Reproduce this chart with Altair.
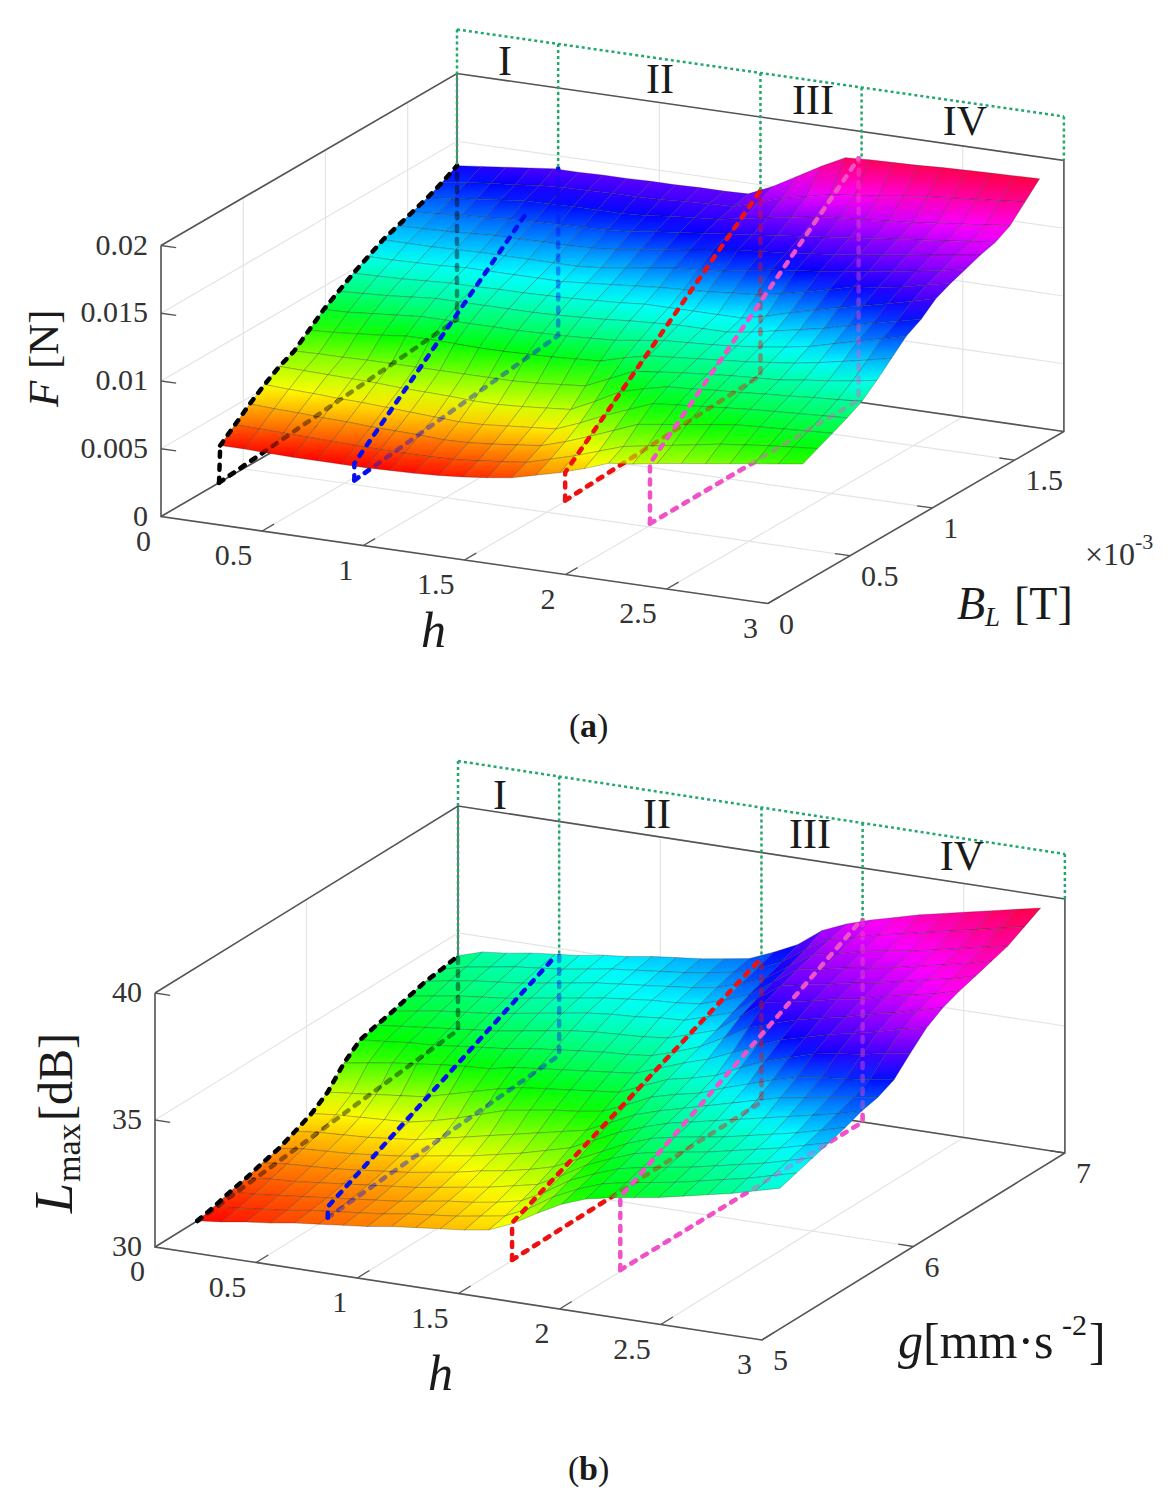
import colorsys

import altair as alt
import pandas as pd

# ---------- data ----------
H_STATIONS = [round(0.12 * i, 2) for i in range(25)]
BL_STATIONS = [round(0.36 + 0.09 * i, 3) for i in range(17)]      # x 10^-3 T
G_STATIONS = [round(5.28 + 0.1075 * i, 4) for i in range(17)]     # mm/s^2

# F in 10^-3 N; one row per h station, one column per B_L station
F_TABLE = [
 [2.7,3.6,4.5,5.3,6.0,6.5,7.4,8.3,9.0,9.7,10.3,10.9,11.3,11.7,12.1,12.6,13.2],
 [2.7,3.55,4.4,5.2,5.95,6.55,7.5,8.35,9.1,9.75,10.3,10.9,11.35,11.8,12.3,12.85,13.4],
 [2.65,3.5,4.35,5.15,5.9,6.55,7.65,8.5,9.2,9.8,10.35,10.9,11.4,11.95,12.5,13.05,13.6],
 [2.6,3.45,4.25,5.05,5.85,6.6,7.8,8.65,9.35,9.9,10.4,10.95,11.5,12.05,12.7,13.2,13.8],
 [2.6,3.4,4.2,5.0,5.8,6.6,8.0,8.8,9.5,10.0,10.5,11.0,11.6,12.2,12.9,13.4,14.0],
 [2.6,3.35,4.1,4.9,5.7,6.6,8.0,8.8,9.5,10.0,10.5,11.0,11.6,12.25,12.95,13.5,14.0],
 [2.6,3.3,4.05,4.8,5.65,6.6,7.95,8.8,9.5,10.05,10.5,11.0,11.65,12.3,13.0,13.55,14.05],
 [2.65,3.3,4.0,4.7,5.6,6.6,7.9,8.8,9.5,10.05,10.5,11.0,11.65,12.35,13.0,13.6,14.05],
 [2.7,3.3,3.9,4.6,5.5,6.6,7.9,8.8,9.5,10.1,10.5,11.0,11.7,12.4,13.0,13.6,14.1],
 [2.8,3.35,3.95,4.65,5.5,6.6,7.95,8.85,9.55,10.15,10.65,11.15,11.85,12.55,13.1,13.65,14.1],
 [2.95,3.5,4.1,4.8,5.6,6.7,8.0,8.9,9.65,10.25,10.8,11.4,12.1,12.8,13.3,13.75,14.15],
 [3.15,3.7,4.3,4.95,5.75,6.85,8.1,9.0,9.75,10.35,10.95,11.65,12.35,13.0,13.45,13.85,14.15],
 [3.4,3.9,4.5,5.1,5.9,7.0,8.2,9.1,9.9,10.5,11.1,11.9,12.6,13.2,13.6,13.9,14.2],
 [3.85,4.4,5.05,5.8,6.75,7.8,8.7,9.35,10.0,10.5,11.2,12.05,12.85,13.4,13.9,14.45,15.0],
 [4.3,4.9,5.7,6.6,7.7,8.6,9.1,9.6,10.1,10.5,11.3,12.2,13.1,13.6,14.2,15.0,16.0],
 [4.85,5.5,6.4,7.3,8.2,8.8,9.25,9.7,10.1,10.5,11.45,12.5,13.25,13.8,14.5,15.4,17.0],
 [5.5,6.1,7.1,8.0,8.6,9.0,9.4,9.8,10.1,10.5,11.6,12.8,13.4,14.0,14.8,15.8,17.9],
 [5.7,6.4,7.35,8.15,8.7,9.15,9.55,9.95,10.35,10.9,11.9,13.0,13.6,14.2,14.95,16.0,18.0],
 [6.0,6.7,7.6,8.3,8.85,9.3,9.7,10.15,10.7,11.4,12.3,13.2,13.8,14.4,15.1,16.2,18.05],
 [6.25,7.0,7.85,8.45,8.95,9.4,9.9,10.4,11.05,11.85,12.75,13.45,14.05,14.6,15.25,16.45,18.1],
 [6.5,7.3,8.1,8.6,9.1,9.5,10.1,10.7,11.4,12.3,13.2,13.7,14.3,14.8,15.4,16.7,18.2],
 [6.75,7.5,8.2,8.7,9.2,9.75,10.4,11.15,11.85,12.7,13.4,13.95,14.55,15.0,15.6,16.85,18.25],
 [7.0,7.7,8.3,8.8,9.35,9.95,10.75,11.6,12.3,13.1,13.7,14.25,14.8,15.2,15.8,17.0,18.3],
 [7.25,7.85,8.4,8.9,9.45,10.2,11.1,12.05,12.7,13.55,14.1,14.55,15.05,15.4,16.0,17.15,18.35],
 [7.5,8.0,8.5,9.0,9.6,10.5,11.5,12.5,13.1,14.0,14.5,14.9,15.3,15.6,16.2,17.3,18.4],
]
# L_max in dB; one row per h station, one column per g station
L_TABLE = [
 [30.0,30.15,30.35,30.5,30.7,30.87,31.15,31.45,31.9,32.65,33.17,33.35,33.5,33.7,33.88,33.97,34.1],
 [30.1,30.25,30.4,30.6,30.8,31.0,31.25,31.55,32.0,32.8,33.25,33.45,33.65,33.85,34.05,34.2,34.4],
 [30.25,30.35,30.5,30.65,30.85,31.05,31.3,31.6,32.1,32.95,33.35,33.55,33.8,34.0,34.2,34.35,34.5],
 [30.35,30.45,30.6,30.75,30.9,31.1,31.35,31.65,32.2,33.05,33.4,33.65,33.9,34.1,34.3,34.5,34.65],
 [30.5,30.6,30.7,30.85,31.0,31.2,31.45,31.7,32.3,33.17,33.5,33.75,34.0,34.2,34.4,34.6,34.75],
 [30.6,30.7,30.8,30.95,31.1,31.3,31.55,31.9,32.55,33.25,33.6,33.85,34.15,34.35,34.55,34.7,34.85],
 [30.7,30.8,30.9,31.05,31.2,31.45,31.75,32.15,32.8,33.3,33.7,34.0,34.3,34.5,34.7,34.85,35.0],
 [30.8,30.9,31.0,31.15,31.35,31.6,31.95,32.45,33.05,33.5,33.85,34.15,34.45,34.65,34.85,35.0,35.1],
 [30.95,31.05,31.15,31.3,31.5,31.75,32.15,32.75,33.25,33.6,33.95,34.3,34.6,34.8,34.95,35.1,35.25],
 [31.05,31.15,31.3,31.45,31.7,31.95,32.35,32.9,33.35,33.7,34.05,34.4,34.7,34.9,35.05,35.2,35.35],
 [31.15,31.25,31.4,31.6,31.85,32.15,32.55,33.05,33.45,33.8,34.15,34.45,34.75,35.0,35.15,35.3,35.45],
 [31.25,31.4,31.55,31.8,32.05,32.4,32.75,33.15,33.55,33.9,34.2,34.5,34.85,35.05,35.25,35.45,35.6],
 [31.4,31.55,31.75,32.0,32.3,32.65,32.95,33.3,33.65,34.0,34.3,34.6,34.9,35.15,35.4,35.6,35.75],
 [31.8,32.0,32.25,32.5,32.75,33.1,33.4,33.7,34.05,34.35,34.6,34.9,35.2,35.45,35.7,35.9,36.15],
 [32.35,32.6,32.85,33.05,33.2,33.55,33.85,34.15,34.45,34.7,34.95,35.2,35.5,35.8,36.05,36.3,36.6],
 [32.85,33.05,33.25,33.45,33.65,33.9,34.15,34.4,34.65,35.0,35.45,35.9,36.2,36.45,36.7,36.95,37.3],
 [33.2,33.4,33.6,33.8,34.0,34.2,34.4,34.6,34.9,35.4,36.0,36.6,36.85,37.1,37.3,37.5,37.7],
 [33.4,33.6,33.8,34.0,34.2,34.4,34.65,34.95,35.35,35.8,36.3,36.75,37.05,37.25,37.45,37.7,38.0],
 [33.55,33.75,33.95,34.15,34.35,34.6,34.9,35.25,35.75,36.2,36.6,36.95,37.2,37.45,37.7,37.95,38.25],
 [33.7,33.9,34.1,34.3,34.5,34.8,35.15,35.55,36.05,36.45,36.8,37.15,37.4,37.6,37.85,38.15,38.5],
 [33.9,34.1,34.3,34.5,34.7,35.0,35.4,35.8,36.33,36.7,37.0,37.3,37.55,37.75,38.0,38.35,38.7],
 [34.1,34.3,34.5,34.7,34.9,35.2,35.55,35.95,36.5,36.9,37.25,37.55,37.75,37.95,38.2,38.55,38.9],
 [34.3,34.5,34.7,34.9,35.1,35.4,35.7,36.05,36.6,37.1,37.45,37.75,37.95,38.15,38.4,38.75,39.1],
 [34.55,34.75,34.95,35.15,35.35,35.6,35.85,36.15,36.8,37.35,37.7,37.95,38.15,38.35,38.6,38.95,39.3],
 [34.8,35.0,35.2,35.4,35.6,35.85,36.0,36.3,36.95,37.55,37.95,38.2,38.4,38.6,38.8,39.15,39.5],
]

# value at which each hue of the rainbow (red, yellow, green, cyan, blue, magenta, red) sits
HUES = [0, 1 / 6, 2 / 6, 3 / 6, 4 / 6, 5 / 6, 0.96]
F_HUE_VALUES = [2.6, 5.2, 7.9, 10.5, 13.1, 15.8, 18.4]
L_HUE_VALUES = [30, 31.6, 33.3, 35.0, 36.3, 38, 39.5]

H_TICKS = [0, 0.5, 1, 1.5, 2, 2.5, 3]
H_LABELS = ["0", "0.5", "1", "1.5", "2", "2.5", "3"]
BL_TICKS = [0, 0.5, 1, 1.5]
BL_LABELS = ["0", "0.5", "1", "1.5"]
G_TICKS = [5, 6, 7]
G_LABELS = ["5", "6", "7"]
F_TICKS = [0, 5, 10, 15, 20]
F_LABELS = ["0", "0.005", "0.01", "0.015", "0.02"]
L_TICKS = [30, 35, 40]
L_LABELS = ["30", "35", "40"]

REGION_H = [0, 0.5, 1.5, 2, 3]
A_REGION_TOP = 23.25
A_REGION_BOTTOM = [13.2, 14.0, 14.6, 18.07, 20]
B_REGION_TOP = 41.77
B_REGION_BOTTOM = [34.1, 34.75, 35.85, 37.95, 40]
REGION_NAMES = ["I", "II", "III", "IV"]

# annotation polylines as (h, second axis, value)
A_VISIBLE = {
 "#000000": [[(0, 0.353, 0), (0, 0.36, 2.7)]],
 "#0610ee": [[(0.52, 0.536, 0), (0.52, 0.536, 1.25), (0.5, 1.618, 12.24)]],
 "#ee1111": [[(1.493, 0.621, 0), (1.493, 0.621, 2.07), (1.5, 1.8, 14.58)]],
 "#f052c8": [[(1.987, 0.529, 0), (1.987, 0.529, 4.43), (2, 1.782, 18.15)]],
}
A_HIDDEN = {
 "#000000": [[(0, 0.353, 0), (0, 1.8, 1.85), (0, 1.8, 13.2)]],
 "#0610ee": [[(0.52, 0.536, 0), (0.5, 1.8, 1.73), (0.5, 1.8, 14.06)]],
 "#ee1111": [[(1.493, 0.621, 0), (1.5, 1.8, 0.92), (1.5, 1.8, 14.58)]],
 "#f052c8": [[(1.987, 0.529, 0), (2, 1.782, 0.3), (2, 1.782, 18.15)]],
}
B_VISIBLE = {
 "#0610ee": [[(0.496, 5.478, 30), (0.496, 5.478, 30.43), (0.5, 6.98, 34.8)]],
 "#ee1111": [[(1.497, 5.358, 30), (1.497, 5.358, 31.46), (1.5, 7, 35.85)]],
 "#f052c8": [[(1.99, 5.414, 30), (1.99, 5.414, 32.87), (2, 6.98, 37.95)]],
}
B_HIDDEN = {
 "#000000": [[(0, 5.28, 30), (0, 7, 31.18), (0, 7, 34.04)]],
 "#0610ee": [[(0.496, 5.478, 30), (0.5, 7, 30.8), (0.5, 7, 34.74)]],
 "#ee1111": [[(1.497, 5.358, 30), (1.5, 7, 30.18), (1.5, 7, 35.85)]],
 "#f052c8": [[(1.99, 5.414, 30), (2, 7, 30), (2, 7, 37.95)]],
}

# ---------- oblique projection of each panel onto the page ----------
PANELS = {
 "a": dict(o=(161, 516.5), hv=(202.3, 29), bv=(296, -172), bmin=0, bmax=1.8, zmin=0, zmax=20, zs=13.55),
 "b": dict(o=(155, 1247), hv=(202.3, 31), bv=(303, -187), bmin=5, bmax=7, zmin=30, zmax=40, zs=25.4),
}
W, H = 1157, 1485
FONT = "Liberation Serif"
AXIS_C = "#555555"
TEXT_C = "#333333"


def proj(p, h, b, z):
    c = PANELS[p]
    t = (b - c["bmin"]) / (c["bmax"] - c["bmin"])
    return (c["o"][0] + c["hv"][0] * h + c["bv"][0] * t,
            c["o"][1] + c["hv"][1] * h + c["bv"][1] * t - c["zs"] * (z - c["zmin"]))


def colour_of(v, stops):
    """Rainbow colour of a surface value."""
    hue = HUES[-1]
    for k in range(len(stops) - 1):
        if v <= stops[k + 1]:
            f = max(0.0, (v - stops[k]) / (stops[k + 1] - stops[k]))
            hue = HUES[k] + f * (HUES[k + 1] - HUES[k])
            break
    r, g, b = colorsys.hsv_to_rgb(hue, 1, 1)
    return "#%02x%02x%02x" % (round(r * 255), round(g * 255), round(b * 255))


class Lines:
    def __init__(self):
        self.rows, self.n = [], 0

    def add(self, p, pts):
        self.n += 1
        for i, (h, b, z) in enumerate(pts):
            x, y = proj(p, h, b, z)
            self.rows.append(dict(x=x, y=y, g=self.n, i=i))
        return self

    def df(self):
        return pd.DataFrame(self.rows)


X = alt.X("x:Q", axis=None, scale=alt.Scale(domain=[8, 8 + W], range=[0, W], nice=False, zero=False))
Y = alt.Y("y:Q", axis=None, scale=alt.Scale(domain=[8, 8 + H], range=[0, H], nice=False, zero=False))


def line_layer(lines, **mark):
    return alt.Chart(lines.df()).mark_line(**mark).encode(
        x=X, y=Y, detail="g:N", order=alt.Order("i:Q"))


grid, box, ticks = Lines(), Lines(), Lines()
for p, hts, bts, zts in (("a", H_TICKS, BL_TICKS, F_TICKS), ("b", H_TICKS, G_TICKS, L_TICKS)):
    c = PANELS[p]
    b0, b1, z0, z1 = c["bmin"], c["bmax"], c["zmin"], c["zmax"]
    for h in hts:
        grid.add(p, [(h, b0, z0), (h, b1, z0), (h, b1, z1)])
    for b in bts:
        grid.add(p, [(3, b, z0), (0, b, z0), (0, b, z1)])
    for z in zts:
        grid.add(p, [(0, b0, z), (0, b1, z), (3, b1, z)])
    box.add(p, [(0, b0, z1), (0, b0, z0), (3, b0, z0), (3, b1, z0), (3, b1, z1), (0, b1, z1), (0, b0, z1)])
    box.add(p, [(0, b0, z0), (0, b1, z0), (3, b1, z0)])
    box.add(p, [(0, b1, z0), (0, b1, z1)])
    bspan = b1 - b0
    for h in hts[1:]:
        ticks.add(p, [(h, b0, z0), (h, b0 + 0.04 * bspan, z0)])
    for b in bts[1:]:
        ticks.add(p, [(3, b, z0), (2.925, b, z0)])
    for z in zts[1:]:
        ticks.add(p, [(0, b0, z), (0.075, b0, z)])

layers = [
    line_layer(grid, stroke="#e4e4e4", strokeWidth=1.2),
    line_layer(box, stroke=AXIS_C, strokeWidth=1.6),
    line_layer(ticks, stroke=AXIS_C, strokeWidth=1.3),
]

DASH = dict(strokeDash=[5, 8], strokeCap="round", strokeWidth=4.5)


def dash_layers(p, spec, **extra):
    out = []
    for colour, paths in spec.items():
        ls = Lines()
        for path in paths:
            ls.add(p, path)
        out.append(line_layer(ls, stroke=colour, **DASH, **extra))
    return out


for p, hid in (("a", A_HIDDEN), ("b", B_HIDDEN)):
    layers += dash_layers(p, hid)

# ---------- surfaces: one quad per mesh cell, far cells first, shaded back edge to front edge ----------
quads = []
qid = 0
for p, table, bs, stops in (("a", F_TABLE, BL_STATIONS, F_HUE_VALUES), ("b", L_TABLE, G_STATIONS, L_HUE_VALUES)):
    for j in range(len(bs) - 2, -1, -1):
        for i in range(len(H_STATIONS) - 1):
            corners = [(i, j), (i + 1, j), (i + 1, j + 1), (i, j + 1)]
            front = (table[i][j] + table[i + 1][j]) / 2
            back = (table[i][j + 1] + table[i + 1][j + 1]) / 2
            shade = {
                "gradient": "linear", "x1": 0, "y1": 0, "x2": 0, "y2": 1,
                "stops": [{"offset": 0, "color": colour_of(back, stops)},
                          {"offset": 1, "color": colour_of(front, stops)}],
            }
            qid += 1
            for k, (a, b) in enumerate(corners):
                x, y = proj(p, H_STATIONS[a], bs[b], table[a][b])
                quads.append(dict(x=x, y=y, g=qid, i=k, shade=shade))

layers.append(
    alt.Chart(pd.DataFrame(quads))
    .mark_line(interpolate="linear-closed", stroke="#222222", strokeWidth=0.6, strokeOpacity=0.45)
    .encode(
        x=X, y=Y, detail="g:N", order=alt.Order("i:Q"),
        fill=alt.Fill("shade:N", legend=None, scale=None),
    )
)

for p, hid in (("a", A_HIDDEN), ("b", B_HIDDEN)):
    layers += dash_layers(p, hid, opacity=0.42)
for p, vis in (("a", A_VISIBLE), ("b", B_VISIBLE)):
    layers += dash_layers(p, vis)

# black edge of each surface follows its first table row
black = Lines()
black.add("a", [(0, b, v) for b, v in zip(BL_STATIONS, F_TABLE[0])])
black.add("b", [(0, b, v) for b, v in zip(G_STATIONS, L_TABLE[0])])
layers.append(line_layer(black, stroke="#000000", **DASH))

# region frames
green = Lines()
for p, top, bottoms in (("a", A_REGION_TOP, A_REGION_BOTTOM), ("b", B_REGION_TOP, B_REGION_BOTTOM)):
    bmax = PANELS[p]["bmax"]
    green.add(p, [(h, bmax, top) for h in REGION_H])
    for h, bot in zip(REGION_H, bottoms):
        green.add(p, [(h, bmax, top), (h, bmax, bot)])
layers.append(line_layer(green, stroke="#22a86c", strokeWidth=2.5, strokeDash=[3, 3]))


# ---------- tick labels ----------
def tick_text(rows, **mark):
    recs = [dict(zip(("x", "y"), proj(p, h, b, z)), t=t) for p, h, b, z, t in rows]
    return alt.Chart(pd.DataFrame(recs)).mark_text(
        font=FONT, fontSize=30, color=TEXT_C, baseline="middle", **mark
    ).encode(x=X, y=Y, text="t:N")


h_rows = [(p, h, PANELS[p]["bmin"], PANELS[p]["zmin"], t) for p in "ab" for h, t in zip(H_TICKS, H_LABELS)]
layers.append(tick_text(h_rows, align="right", dx=-10, dy=25))
side = [("a", 3, b, 0, t) for b, t in zip(BL_TICKS, BL_LABELS)] + \
       [("b", 3, b, 30, t) for b, t in zip(G_TICKS, G_LABELS)]
layers.append(tick_text(side, align="left", dx=11, dy=21))
zr = [("a", 0, 0, z, t) for z, t in zip(F_TICKS, F_LABELS)] + \
     [("b", 0, 5, z, t) for z, t in zip(L_TICKS, L_LABELS)]
layers.append(tick_text(zr, align="right", dx=-13, dy=0))


# ---------- free text ----------
def label(t, x, y, size, style="normal", weight="normal", align="left", angle=0, colour="#1a1a1a", baseline="alphabetic"):
    return alt.Chart(pd.DataFrame({"t": [t]})).mark_text(
        font=FONT, fontSize=size, fontStyle=style, fontWeight=weight, align=align,
        angle=angle, color=colour, baseline=baseline,
    ).encode(x=alt.value(x - 8), y=alt.value(y - 8), text="t:N")


IT = "italic"
texts = [
    # roman numerals
    label(REGION_NAMES[0], 505, 62, 42, align="center", baseline="middle"),
    label(REGION_NAMES[1], 660, 80, 42, align="center", baseline="middle"),
    label(REGION_NAMES[2], 813, 101, 42, align="center", baseline="middle"),
    label(REGION_NAMES[3], 965, 122, 42, align="center", baseline="middle"),
    label(REGION_NAMES[0], 500, 796, 42, align="center", baseline="middle"),
    label(REGION_NAMES[1], 657, 815, 42, align="center", baseline="middle"),
    label(REGION_NAMES[2], 810, 835, 42, align="center", baseline="middle"),
    label(REGION_NAMES[3], 962, 857, 42, align="center", baseline="middle"),
    # panel a titles
    label("F", 58, 407, 43, IT, angle=270),
    label("[N]", 58, 369, 43, angle=270),
    label("h", 421, 647, 50, IT),
    label("B", 957, 619, 46, IT),
    label("L", 985, 626, 27, IT),
    label("[T]", 1014, 619, 46),
    label("\u00d710", 1085, 565, 32, colour=TEXT_C),
    label("-3", 1135, 549, 22, colour=TEXT_C),
    label("(", 569, 737, 34), label("a", 580, 737, 34, weight="bold"), label(")", 597, 737, 34),
    # panel b titles
    label("L", 72, 1213, 54, IT, angle=270),
    label("max", 80, 1182, 34, angle=270),
    label("[dB]", 72, 1121, 48, angle=270),
    label("h", 428, 1390, 50, IT),
    label("g", 898, 1358, 50, IT),
    label("[mm\u00b7s", 923, 1358, 50),
    label("-2", 1062, 1335, 30),
    label("]", 1089, 1358, 50),
    label("(", 568, 1480, 34), label("b", 579, 1480, 34, weight="bold"), label(")", 598, 1480, 34),
]
layers += texts

chart = (
    alt.layer(*layers)
    .properties(width=W, height=H, padding=0, autosize=alt.AutoSizeParams(type="none"), background="white")
    .configure_view(stroke=None)
)
chart.save("out.html", embed_options={"renderer": "svg", "actions": False})
